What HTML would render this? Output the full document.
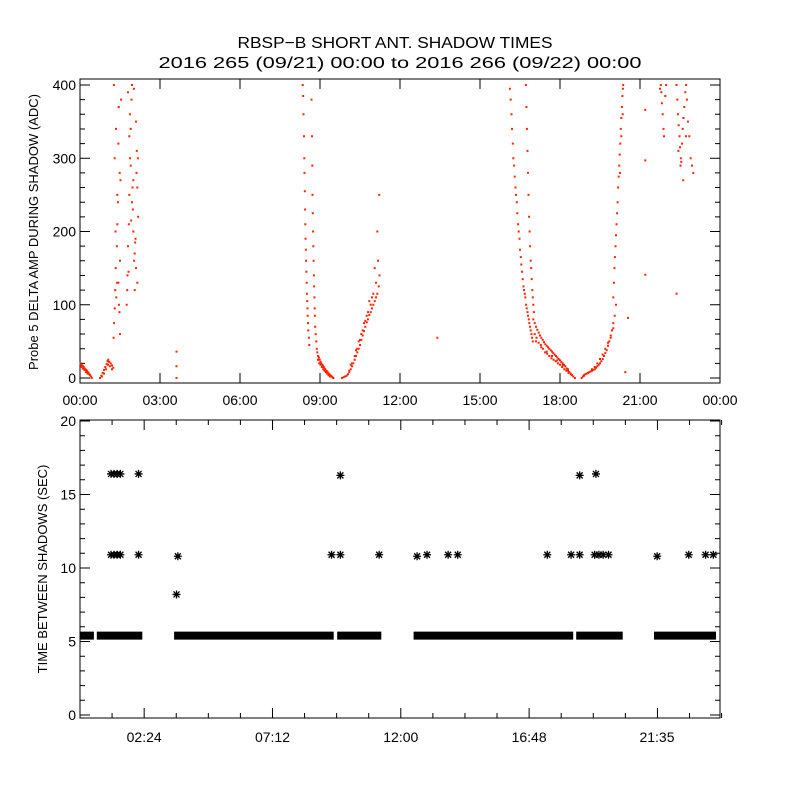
<!DOCTYPE html>
<html><head><meta charset="utf-8"><style>
html,body{margin:0;padding:0;background:#fff;}
svg{display:block;font-family:"Liberation Sans",sans-serif;}
</style></head><body>
<svg id="chart" width="800" height="800" viewBox="0 0 800 800">
<rect width="800" height="800" fill="#fff"/>
<text x="395" y="48" font-size="16" text-anchor="middle" textLength="315" lengthAdjust="spacingAndGlyphs">RBSP−B SHORT ANT. SHADOW TIMES</text>
<text x="400" y="68" font-size="16" text-anchor="middle" textLength="483" lengthAdjust="spacingAndGlyphs">2016 265 (09/21) 00:00 to 2016 266 (09/22) 00:00</text>
<g id="topPanel"></g>
<g id="botPanel"></g>
</svg>
<script>
// ---------- TOP PANEL DATA (hours, ADC) ----------
const tA=[0.02,0.05,0.08,0.11,0.14,0.17,0.2,0.23,0.26,0.29,0.32,0.35,0.38,0.41,0.44,0.04,0.1,0.16,0.22,0.28];
const vA=[20,18,17,16,15,13,12,11,10,8,7,5,4,2,0,15,13,11,8,6];
const tB=[0.75,0.8,0.85,0.9,0.95,1.0,1.03,1.06,1.1,1.15,1.2,1.25,0.82,0.9,0.98,1.05,1.12,1.2];
const vB=[0,3,7,11,15,19,23,25,22,20,17,14,2,6,12,18,16,12];
const tC=[1.26,1.28,1.3,1.32,1.34,1.36,1.38,1.4,1.42,1.44,1.46,1.48,1.5,1.52,1.54,1.3,1.35,1.4,1.45,1.5,1.27,1.33,1.39,1.44,1.49,
 1.75,1.78,1.8,1.83,1.85,1.88,1.9,1.93,1.95,1.98,2.0,2.03,2.05,2.08,2.1,2.13,2.15,2.18,1.8,1.85,1.9,1.95,2.0,2.05,2.1,2.15,1.77,1.87,1.97,2.07,2.12,2.17,2.02,1.92,1.82];
const vC=[55,75,95,120,150,110,180,210,240,130,100,90,160,270,380,300,340,250,370,60,400,200,130,320,280,
 100,140,180,210,250,300,340,380,400,230,270,160,120,190,350,310,260,220,390,330,290,240,200,170,150,130,120,360,260,185,280,300,395,215,145];
const tD=[3.62,3.62,3.62];
const vD=[0,16,36];
const tE=[8.35,8.37,8.38,8.4,8.41,8.42,8.43,8.44,8.45,8.46,8.47,8.48,8.49,8.5,8.51,8.52,8.53,8.54,8.55,8.56,8.58,8.6,
 8.68,8.7,8.71,8.72,8.73,8.74,8.75,8.76,8.77,8.78,8.79,8.8,8.81,8.82,8.84,8.86,8.88];
const vE=[400,385,360,330,300,280,255,230,210,190,175,160,145,130,115,105,95,85,75,65,55,45,
 380,330,290,250,225,200,180,160,140,125,110,95,85,70,60,50,40];
const tF=[8.9,8.93,8.96,8.99,9.02,9.05,9.08,9.11,9.14,9.17,9.2,9.23,9.26,9.29,9.32,9.35,9.38,9.41,9.44,9.47,9.5,8.92,8.97,9.02,9.07,9.12,9.17,9.22,9.27,9.32,9.37];
const vF=[35,30,28,25,22,20,18,17,15,13,12,10,9,8,6,5,4,3,2,1,0,25,20,18,15,12,10,8,6,4,2];
const tG=[9.82,9.88,9.94,10.0,10.05,10.1,10.15,10.2,10.25,10.3,10.35,10.4,10.45,10.5,10.55,10.6,10.65,10.7,10.75,10.8,10.85,10.9,10.95,11.0,11.05,11.1,11.15,11.2,11.23,
 10.1,10.2,10.3,10.4,10.5,10.6,10.7,10.8,10.9,11.0,11.1,11.18,11.22,10.15,10.35,10.55,10.75,10.95,11.15,10.45,10.65,10.85,11.05];
const vG=[0,1,2,3,5,8,12,16,20,25,30,35,40,45,52,58,64,70,76,80,86,90,95,100,105,110,115,125,140,
 10,20,30,40,52,65,78,90,100,115,130,160,250,18,38,60,85,110,200,50,75,105,150];
const tH=[13.4];
const vH=[55];
const tI=[16.12,16.15,16.18,16.2,16.23,16.25,16.28,16.3,16.33,16.35,16.38,16.4,16.43,16.45,16.48,16.5,16.53,16.55,16.58,16.6,16.63,16.65,16.68,16.7,16.73,16.75,16.78,16.8,16.83,16.85,16.88,16.9,16.93,16.95,16.98,
 16.72,16.74,16.76,16.78,16.8,16.82,16.84,16.86,16.88,16.9,16.92,16.94,16.96,16.98,17.0,17.02];
const vI=[395,380,360,340,320,300,290,275,260,250,240,225,210,200,190,175,165,155,145,135,125,120,115,110,100,95,90,85,80,75,70,65,60,55,50,
 400,370,340,310,280,250,220,200,180,160,150,135,120,110,100,90];
const tJ=[17.0,17.05,17.1,17.15,17.2,17.25,17.3,17.35,17.4,17.45,17.5,17.55,17.6,17.65,17.7,17.75,17.8,17.85,17.9,17.95,18.0,18.05,18.1,18.15,18.2,18.25,18.3,18.35,18.4,18.45,18.5,18.56,
 17.05,17.12,17.2,17.28,17.36,17.44,17.52,17.6,17.68,17.76,17.84,17.92,18.0,18.08,18.16,18.24,18.32,18.4,17.1,17.3,17.5,17.7,17.9,18.1,18.3];
const vJ=[80,75,70,66,62,58,55,52,49,46,44,42,40,38,36,34,32,30,28,26,24,22,20,18,16,13,10,8,6,4,2,0,
 60,55,48,45,40,35,33,30,27,25,23,20,18,15,12,10,7,5,50,42,36,30,24,17,12];
const tK=[18.81,18.86,18.9,18.95,19.0,19.05,19.1,19.15,19.2,19.25,19.3,19.35,19.4,19.45,19.5,19.55,19.6,19.65,19.7,19.75,19.8,19.85,19.9,19.95,20.0,20.05,20.1,
 18.9,19.0,19.1,19.2,19.3,19.4,19.5,19.6,19.7,19.8,19.9,20.0];
const vK=[0,2,3,5,6,7,8,9,10,11,12,14,16,18,20,23,26,30,34,38,44,50,58,65,75,85,100,
 4,6,8,12,15,20,26,32,40,48,55,68];
const tL=[20.0,20.02,20.04,20.06,20.08,20.1,20.12,20.14,20.16,20.18,20.2,20.22,20.24,20.26,20.28,20.3,20.32,20.34,20.36,20.37,20.25,20.3,20.35];
const vL=[110,130,150,165,180,195,210,225,240,260,275,290,305,320,340,355,370,385,395,400,280,330,360];
const tM=[21.2,21.2,21.2,22.37,20.55,20.45,
 21.78,21.8,21.82,21.85,21.88,21.9,21.75,21.95,21.98,
 22.37,22.4,22.42,22.45,22.48,22.5,22.53,22.55,22.58,22.6,22.63,22.66,22.7,22.73,22.76,22.8,22.85,22.9,22.95,23.0,22.44,22.52,22.62,22.72];
const vM=[366,297,141,115,82,8,
 400,390,375,360,340,330,395,385,400,
 400,380,360,345,330,315,300,295,320,340,355,370,390,400,380,350,330,300,290,280,310,290,270,330];
const topT=[tA,tB,tC,tD,tE,tF,tG,tH,tI,tJ,tK,tL,tM];
const topV=[vA,vB,vC,vD,vE,vF,vG,vH,vI,vJ,vK,vL,vM];
const topYTicks=[0,100,200,300,400];
const topXTicks=["00:00","03:00","06:00","09:00","12:00","15:00","18:00","21:00","00:00"];

// ---------- BOTTOM PANEL DATA ----------
const bandStart=[0.01,0.63,3.52,9.62,12.48,18.56,21.47];
const bandEnd=[0.52,2.33,9.49,11.27,18.45,20.3,23.79];
const bandValue=[5.4,5.4,5.4,5.4,5.4,5.4,5.4];
const outT=[1.16,1.27,1.39,1.51,2.19,9.74,18.69,19.3,
 1.16,1.27,1.39,1.51,2.19,3.66,9.41,9.74,11.19,12.61,12.98,13.77,14.13,17.48,18.37,18.69,19.25,19.41,19.57,19.77,21.59,22.77,23.4,23.69,
 3.61];
const outV=[16.4,16.4,16.4,16.4,16.4,16.3,16.3,16.4,
 10.9,10.9,10.9,10.9,10.9,10.8,10.9,10.9,10.9,10.8,10.9,10.9,10.9,10.9,10.9,10.9,10.9,10.9,10.9,10.9,10.8,10.9,10.9,10.9,
 8.2];
const botYTicks=[0,5,10,15,20];
const botXTickHours=[2.4,7.2,12.0,16.8,21.583];
const botXTickLabels=["02:24","07:12","12:00","16:48","21:35"];

const NS="http://www.w3.org/2000/svg";
function mk(tag,attrs,parent){const e=document.createElementNS(NS,tag);for(const k in attrs)e.setAttribute(k,attrs[k]);parent.appendChild(e);return e;}

// ---------- TOP PANEL ----------
const topPanel=document.getElementById('topPanel');
const TL=80,TR=720,TT=79,TB=383;
const tx=h=>TL+h*(TR-TL)/24;
const ty=v=>378-v*0.7325;
let box=mk('rect',{x:TL,y:TT,width:TR-TL,height:TB-TT,fill:'none',stroke:'#000','stroke-width':1},topPanel);


let tk='';
for(let v=0;v<=400;v+=20){const y=ty(v);const L=(v%100===0)?10:5;tk+=`M${TL} ${y}h${L}M${TR} ${y}h${-L}`;}
for(let i=0;i<topXTicks.length;i++){const x=tx(i*3);tk+=`M${x} ${TB}v-10M${x} ${TT}v10`;}
let tp=mk('path',{d:tk,stroke:'#000','stroke-width':1,fill:'none'},topPanel);


topYTicks.forEach(v=>{const t=mk('text',{x:TL-4,y:ty(v)+5,'font-size':14,'text-anchor':'end'},topPanel);t.textContent=String(v);
 
 });
topXTicks.forEach((s,i)=>{const t=mk('text',{x:tx(i*3),y:405,'font-size':14,'text-anchor':'middle'},topPanel);t.textContent=s;
 
 });
let yt=mk('text',{x:0,y:0,'font-size':13,'text-anchor':'middle',transform:'translate(38,232) rotate(-90)'},topPanel);
yt.textContent='Probe 5 DELTA AMP DURING SHADOW (ADC)';


let dd='';
for(let c=0;c<topT.length;c++){for(let i=0;i<topT[c].length;i++){const x=tx(topT[c][i]),y=ty(topV[c][i]);dd+=`M${(x-1).toFixed(1)} ${(y-1).toFixed(1)}h2v2h-2z`;}}
let dots=mk('path',{d:dd,fill:'#ff2200'},topPanel);



// ---------- BOTTOM PANEL ----------
const botPanel=document.getElementById('botPanel');
const BL=80,BR=720,BT=420,BB=718;
const bx=h=>BL+h*(BR-BL)/23.94;
const by=v=>715-v*14.7;
let box2=mk('rect',{x:BL,y:BT,width:BR-BL,height:BB-BT,fill:'none',stroke:'#000','stroke-width':1},botPanel);


let tk2='';
for(let v=0;v<=20;v++){const y=by(v);const L=(v%5===0)?10:5;tk2+=`M${BL} ${y}h${L}M${BR} ${y}h${-L}`;}
for(let h=2.4-1.2;h<24;h+=1.2){const x=bx(h);const maj=Math.abs(((h-2.4)/4.8)-Math.round((h-2.4)/4.8))<0.01;const L=maj?10:5;tk2+=`M${x} ${BB}v${-L}M${x} ${BT}v${L}`;}
let tp2=mk('path',{d:tk2,stroke:'#000','stroke-width':1,fill:'none'},botPanel);


botYTicks.forEach(v=>{const t=mk('text',{x:BL-4,y:by(v)+5,'font-size':14,'text-anchor':'end'},botPanel);t.textContent=String(v);
 
 });
botXTickHours.forEach((h,i)=>{const t=mk('text',{x:bx(h),y:742,'font-size':14,'text-anchor':'middle'},botPanel);t.textContent=botXTickLabels[i];
 
 });
let yt2=mk('text',{x:0,y:0,'font-size':13,'text-anchor':'middle',transform:'translate(47,569) rotate(-90)'},botPanel);
yt2.textContent='TIME BETWEEN SHADOWS (SEC)';


function star(x,y){const r=4;return `M${x-r} ${y}h${2*r}M${x} ${y-r}v${2*r}M${x-3} ${y-3}l6 6M${x-3} ${y+3}l6 -6`;}
let sd='';
for(let s=0;s<bandStart.length;s++){
 const x0=bx(bandStart[s]),x1=bx(bandEnd[s]),y=by(bandValue[s]);
 sd+=`M${x0.toFixed(1)} ${(y-4).toFixed(1)}H${x1.toFixed(1)}V${(y+4).toFixed(1)}H${x0.toFixed(1)}Z`;
}
let band=mk('path',{d:sd,fill:'#000'},botPanel);


let od='';
for(let i=0;i<outT.length;i++){od+=star(bx(outT[i]),by(outV[i]));}
let outs=mk('path',{d:od,stroke:'#000','stroke-width':1.3,fill:'none'},botPanel);


</script>
</body></html>
